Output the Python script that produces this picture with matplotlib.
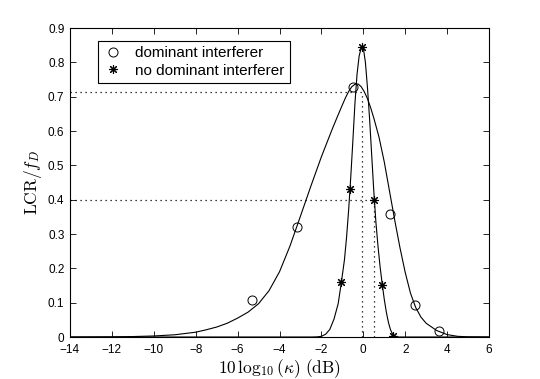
import numpy as np
import matplotlib as mpl
mpl.use('Agg')
import matplotlib.pyplot as plt

mpl.rcParams['font.family'] = ['Liberation Sans', 'DejaVu Sans']
mpl.rcParams['mathtext.fontset'] = 'cm'

## fitted curves
dom_curve_x = [-14, -13, -12, -11, -10, -9, -8, -7.5, -7, -6.5, -6, -5.5, -5, -4.5,
               -4, -3.5, -3, -2.5, -2, -1.5, -1.25, -1.0, -0.85, -0.7, -0.55, -0.4,
               -0.25, -0.1, 0.05, 0.2, 0.35, 0.5, 0.75, 1.0, 1.25, 1.5, 1.75, 2.0,
               2.25, 2.5, 2.75, 3.0, 3.5, 4.0, 4.5, 5.0, 6.0]
dom_curve_y = [0.0, 0.0002, 0.0005, 0.0013, 0.003, 0.0065, 0.014, 0.021, 0.029, 0.04,
               0.055, 0.0725, 0.097, 0.135, 0.19, 0.265, 0.352, 0.44, 0.525, 0.603,
               0.640, 0.676, 0.697, 0.715, 0.729, 0.736, 0.737, 0.729, 0.714, 0.694,
               0.668, 0.638, 0.582, 0.51, 0.425, 0.34, 0.26, 0.188, 0.128, 0.086,
               0.058, 0.040, 0.019, 0.007, 0.002, 0.0005, 0.0]

nodom_curve_x = [-14, -2.5, -2.2, -2.0, -1.8, -1.6, -1.4, -1.2, -1.05, -0.9, -0.8,
                 -0.7, -0.6, -0.5, -0.4, -0.3, -0.2, -0.1, -0.05, 0.0, 0.1, 0.2,
                 0.3, 0.4, 0.5, 0.6, 0.7, 0.8, 0.9, 1.0, 1.1, 1.2, 1.3, 1.4, 1.5,
                 1.7, 2.0, 6.0]
nodom_curve_y = [0.0, 0.0, 0.0005, 0.002, 0.008, 0.022, 0.052, 0.097, 0.158, 0.225, 0.29,
                 0.37, 0.465, 0.57, 0.68, 0.765, 0.818, 0.843, 0.847, 0.842, 0.80, 0.725,
                 0.635, 0.53, 0.425, 0.335, 0.265, 0.205, 0.155, 0.11, 0.072, 0.042,
                 0.021, 0.008, 0.002, 0.0, 0.0, 0.0]

## simulated points
dom_x = [-5.33, -3.18, -0.48, 1.27, 2.45, 3.63]
dom_y = [0.108, 0.321, 0.728, 0.358, 0.093, 0.018]
nodom_x = [-1.05, -0.63, -0.08, 0.52, 0.90, 1.43]
nodom_y = [0.160, 0.431, 0.845, 0.400, 0.152, 0.004]

## dotted guide lines (x position, y level)
guide_x = [-0.08, 0.52]
guide_y = [0.714, 0.40]

fig = plt.figure(figsize=(5.4, 3.79), dpi=100)
ax = fig.add_axes([0.1296, 0.1108, 0.7760, 0.8153])

ax.plot(dom_curve_x, dom_curve_y, '-', color='k', lw=0.8)
ax.plot(nodom_curve_x, nodom_curve_y, '-', color='k', lw=0.8)

for gx, gy in zip(guide_x, guide_y):
  ax.plot([-14, gx], [gy, gy], color='k', lw=0.9, ls=(0, (1, 3)))
  ax.plot([gx, gx], [0, gy], color='k', lw=0.9, ls=(0, (1, 3)))

h1, = ax.plot(dom_x, dom_y, 'o', mfc='none', mec='k', ms=6.5, mew=0.7,
              label='dominant interferer')
h2, = ax.plot(nodom_x, nodom_y, ls='none', marker=(8, 2, 0), color='k', ms=6.5, mew=0.8,
              label='no dominant interferer')

ax.set_xlim(-14, 6)
ax.set_ylim(0, 0.9)
ax.set_xticks(np.arange(-14, 7, 2))
ax.set_yticks(np.arange(0, 0.91, 0.1))
ax.set_yticklabels(['0'] + ['%.1f' % v for v in np.arange(0.1, 0.91, 0.1)])
ax.tick_params(direction='in', top=True, right=True, labelsize=8.5, length=4, width=0.6)
ax.tick_params(axis='x', pad=5)
ax.tick_params(axis='y', pad=4)
for s in ax.spines.values():
  s.set_linewidth(0.8)

ax.set_xlabel(r'$10\,\log_{10}(\kappa)\ \mathrm{(dB)}$', fontsize=12.5, labelpad=1)
ax.set_ylabel(r'$\mathrm{LCR}/f_D$', fontsize=12.5, labelpad=3)

leg = ax.legend(handles=[h1, h2], loc='upper left', bbox_to_anchor=(0.067, 0.959),
                borderaxespad=0, fontsize=11, fancybox=False, framealpha=1,
                handlelength=1.2, handletextpad=0.9, borderpad=0.35, labelspacing=0.25)
leg.get_frame().set_edgecolor('k')
leg.get_frame().set_linewidth(0.8)

fig.savefig('out.png', dpi=100)
